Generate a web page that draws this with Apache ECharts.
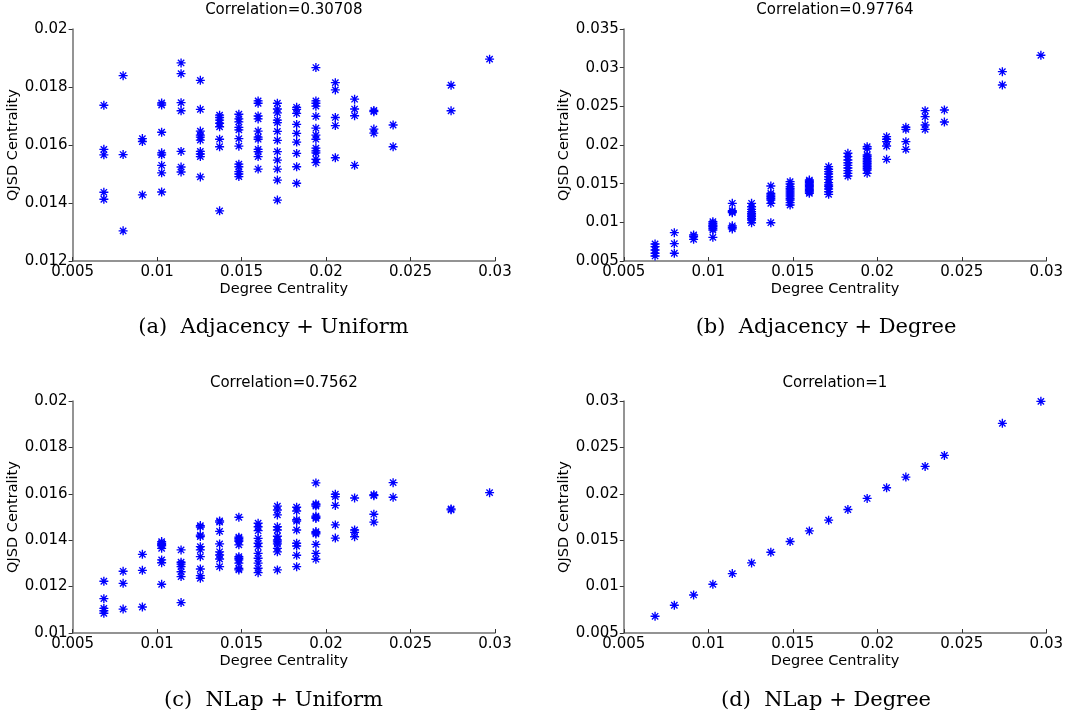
<!DOCTYPE html>
<html>
<head>
<meta charset="utf-8">
<title>QJSD vs Degree Centrality</title>
<script src="https://cdn.jsdelivr.net/npm/echarts@6/dist/echarts.min.js"></script>
<style>
  html, body { margin: 0; padding: 0; background: #ffffff; }
  #chart { width: 1067px; height: 722px; }
</style>
</head>
<body>
<div id="chart"></div>
<script>
// Degree centrality of each node group (one column of points per degree value)
const degree = [0.00685, 0.00799, 0.00913, 0.01027, 0.01142, 0.01256, 0.0137, 0.01484, 0.01598,
                0.01712, 0.01826, 0.0194, 0.02055, 0.02169, 0.02283, 0.02397, 0.0274, 0.02968];

// QJSD centrality values, grouped by the degree column they belong to
const adjUniform = [
  [0.01737, 0.01585, 0.01566, 0.01437, 0.01413],
  [0.01839, 0.01567, 0.01304],
  [0.01622, 0.01612, 0.01428],
  [0.01745, 0.01738, 0.01644, 0.01573, 0.01566, 0.0153, 0.01504, 0.01438],
  [0.01883, 0.01846, 0.01746, 0.01718, 0.01578, 0.01524, 0.01507],
  [0.01823, 0.01723, 0.01648, 0.01634, 0.01627, 0.01617, 0.01578, 0.01569, 0.0156, 0.0149],
  [0.01703, 0.01695, 0.01686, 0.01675, 0.01663, 0.0162, 0.01594, 0.01373],
  [0.01706, 0.0169, 0.0168, 0.01661, 0.01652, 0.01622, 0.01596, 0.01534, 0.01525, 0.01508, 0.015, 0.01491],
  [0.01752, 0.01744, 0.017, 0.0169, 0.01648, 0.01627, 0.0162, 0.01585, 0.01577, 0.0156, 0.01517],
  [0.01744, 0.01724, 0.01711, 0.01686, 0.01677, 0.01647, 0.01616, 0.01577, 0.01548, 0.01517, 0.01479, 0.0141],
  [0.0173, 0.01723, 0.01709, 0.01671, 0.0164, 0.0161, 0.01571, 0.01525, 0.01468],
  [0.01867, 0.01752, 0.01744, 0.01734, 0.01699, 0.01658, 0.01634, 0.0162, 0.01589, 0.0158, 0.01573, 0.01551, 0.01539],
  [0.01815, 0.0179, 0.01695, 0.01667, 0.01556],
  [0.01758, 0.01724, 0.01701, 0.0153],
  [0.01719, 0.01715, 0.01655, 0.01641],
  [0.01669, 0.01594],
  [0.01806, 0.01718],
  [0.01896]
];

const adjDegree = [
  [0.0072, 0.00685, 0.00642, 0.006, 0.00565],
  [0.00866, 0.00724, 0.006],
  [0.00836, 0.00814, 0.0078],
  [0.01008, 0.00987, 0.00966, 0.00955, 0.00944, 0.00923, 0.00901, 0.00806],
  [0.01246, 0.0115, 0.01138, 0.01125, 0.00955, 0.00935, 0.00915],
  [0.01246, 0.01202, 0.01168, 0.01138, 0.01116, 0.01095, 0.01073, 0.01052, 0.0103, 0.00995],
  [0.0147, 0.01375, 0.01353, 0.01332, 0.01311, 0.01289, 0.01246, 0.00995],
  [0.01526, 0.01496, 0.01461, 0.0144, 0.01418, 0.01392, 0.01366, 0.01341, 0.01311, 0.01289, 0.01254, 0.01224],
  [0.01547, 0.01531, 0.01513, 0.01496, 0.01479, 0.01461, 0.01444, 0.01427, 0.01409, 0.01392, 0.01375],
  [0.0172, 0.01686, 0.01655, 0.01625, 0.0159, 0.01556, 0.01513, 0.01483, 0.01461, 0.01431, 0.01396, 0.01362],
  [0.01893, 0.01849, 0.01806, 0.01771, 0.01737, 0.01703, 0.01668, 0.01634, 0.01599],
  [0.01978, 0.01952, 0.01871, 0.01849, 0.01828, 0.01806, 0.01784, 0.01763, 0.01741, 0.0172, 0.01699, 0.01677, 0.01634],
  [0.02108, 0.02074, 0.02043, 0.01987, 0.01815],
  [0.02229, 0.02203, 0.02043, 0.01944],
  [0.02444, 0.02366, 0.02259, 0.02203],
  [0.02453, 0.02297],
  [0.02948, 0.02776],
  [0.0316]
];

const nlapUniform = [
  [0.01223, 0.01148, 0.01106, 0.01096, 0.01085],
  [0.01266, 0.01214, 0.01103],
  [0.01339, 0.0127, 0.01112],
  [0.01394, 0.01387, 0.01381, 0.01376, 0.01365, 0.01315, 0.01303, 0.0121],
  [0.01358, 0.01305, 0.01297, 0.01286, 0.01264, 0.01243, 0.01131],
  [0.01463, 0.01457, 0.01422, 0.01416, 0.01372, 0.01358, 0.01329, 0.01276, 0.01247, 0.01236],
  [0.01483, 0.01478, 0.01438, 0.01384, 0.0135, 0.01336, 0.01319, 0.01286],
  [0.01499, 0.01413, 0.01408, 0.01401, 0.01395, 0.0138, 0.01329, 0.01322, 0.01315, 0.01301, 0.01278, 0.01272],
  [0.01473, 0.01458, 0.01441, 0.01408, 0.01387, 0.01372, 0.01343, 0.01322, 0.01301, 0.01279, 0.0126],
  [0.01547, 0.0153, 0.01509, 0.01458, 0.01444, 0.01417, 0.01401, 0.01393, 0.01384, 0.01365, 0.0135, 0.01272],
  [0.01542, 0.01526, 0.01488, 0.01482, 0.01444, 0.01387, 0.01375, 0.01335, 0.01286],
  [0.01647, 0.01556, 0.01552, 0.01547, 0.01504, 0.01499, 0.01494, 0.01437, 0.01432, 0.01427, 0.01382, 0.01343, 0.01318],
  [0.01598, 0.01588, 0.0155, 0.01466, 0.01409],
  [0.01582, 0.01444, 0.01434, 0.01415],
  [0.01596, 0.01592, 0.01512, 0.01478],
  [0.01648, 0.01585],
  [0.01535, 0.01531],
  [0.01605]
];

const nlapDegree = [
  [0.0068], [0.00799], [0.0091], [0.01025], [0.0114], [0.01255], [0.0137], [0.01486], [0.016],
  [0.01716], [0.01831], [0.0195], [0.02065], [0.0218], [0.02295], [0.02414], [0.02759], [0.02996]
];

// Panel headings and sub-captions
const correlations = ['Correlation=0.30708', 'Correlation=0.97764', 'Correlation=0.7562', 'Correlation=1'];
const captions = ['(a)  Adjacency + Uniform', '(b)  Adjacency + Degree', '(c)  NLap + Uniform', '(d)  NLap + Degree'];

// y-axis ranges for the four panels: [min, max, interval]
const yRanges = [
  [0.012, 0.02, 0.002],
  [0.005, 0.035, 0.005],
  [0.01, 0.02, 0.002],
  [0.005, 0.03, 0.005]
];
const xRange = [0.005, 0.03, 0.005];

const panelValues = [adjUniform, adjDegree, nlapUniform, nlapDegree];

// Eight-armed asterisk marker built from four thin bars
const STAR = 'path://M-1.5,-10 L1.5,-10 L1.5,10 L-1.5,10 Z ' +
  'M-10,-1.5 L10,-1.5 L10,1.5 L-10,1.5 Z ' +
  'M-6,-8.1 L8.1,6 L6,8.1 L-8.1,-6 Z ' +
  'M6,-8.1 L8.1,-6 L-6,8.1 L-8.1,6 Z';

const grids = [
  { left: 72.6, top: 29, width: 422.4, height: 232 },
  { left: 623.8, top: 29, width: 422.5, height: 232 },
  { left: 72.6, top: 401, width: 422.4, height: 232 },
  { left: 623.8, top: 401, width: 422.5, height: 232 }
];

const SANS = '"DejaVu Sans", "Liberation Sans", Arial, sans-serif';
const SERIF = '"DejaVu Serif", "Liberation Serif", serif';
const AXIS_COLOR = '#707070';

function fmt(v) {
  return String(parseFloat(v.toFixed(5)));
}

const xAxes = grids.map((g, i) => ({
  type: 'value',
  gridIndex: i,
  min: xRange[0], max: xRange[1], interval: xRange[2],
  name: 'Degree Centrality',
  nameLocation: 'middle',
  nameGap: 21,
  nameTextStyle: { fontFamily: SANS, fontSize: 14.5, color: '#000' },
  axisLine: { show: true, onZero: false, lineStyle: { color: AXIS_COLOR, width: 1.5 } },
  axisTick: { show: true, inside: true, length: 4, lineStyle: { color: '#333', width: 1 } },
  axisLabel: { show: true, margin: 4, fontFamily: SANS, fontSize: 15, color: '#000',
               showMinLabel: true, showMaxLabel: true, formatter: fmt },
  splitLine: { show: false }
}));

const yAxes = grids.map((g, i) => ({
  type: 'value',
  gridIndex: i,
  min: yRanges[i][0], max: yRanges[i][1], interval: yRanges[i][2],
  name: 'QJSD Centrality',
  nameLocation: 'middle',
  nameGap: 45,
  nameRotate: 90,
  nameTextStyle: { fontFamily: SANS, fontSize: 14.5, color: '#000' },
  axisLine: { show: true, onZero: false, lineStyle: { color: AXIS_COLOR, width: 1.5 } },
  axisTick: { show: true, inside: false, length: 4, lineStyle: { color: '#333', width: 1 } },
  axisLabel: { show: true, margin: 5, fontFamily: SANS, fontSize: 15, color: '#000',
               showMinLabel: true, showMaxLabel: true, formatter: fmt },
  splitLine: { show: false }
}));

const series = panelValues.map((cols, i) => {
  const data = [];
  cols.forEach((ys, c) => ys.forEach(y => data.push([degree[c], y])));
  return {
    type: 'scatter',
    xAxisIndex: i,
    yAxisIndex: i,
    symbol: STAR,
    symbolSize: 9,
    itemStyle: { color: '#0000ff', opacity: 1 },
    emphasis: { disabled: true },
    silent: true,
    animation: false,
    data: data
  };
});

const centersX = [283.8, 835];
const graphics = [];
correlations.forEach((t, i) => {
  graphics.push({
    type: 'text',
    x: centersX[i % 2],
    y: i < 2 ? 10 : 383,
    style: { text: t, fontFamily: SANS, fontSize: 15, fill: '#000',
             textAlign: 'center', textVerticalAlign: 'middle' },
    silent: true
  });
});
const captionX = [273.5, 826];
captions.forEach((t, i) => {
  graphics.push({
    type: 'text',
    x: captionX[i % 2],
    y: i < 2 ? 328 : 701,
    style: { text: t, fontFamily: SERIF, fontSize: 21, fill: '#000',
             textAlign: 'center', textVerticalAlign: 'middle' },
    silent: true
  });
});

const chart = echarts.init(document.getElementById('chart'), null, { renderer: 'canvas' });
chart.setOption({
  backgroundColor: '#ffffff',
  animation: false,
  grid: grids,
  xAxis: xAxes,
  yAxis: yAxes,
  series: series,
  graphic: graphics
});
</script>
</body>
</html>
